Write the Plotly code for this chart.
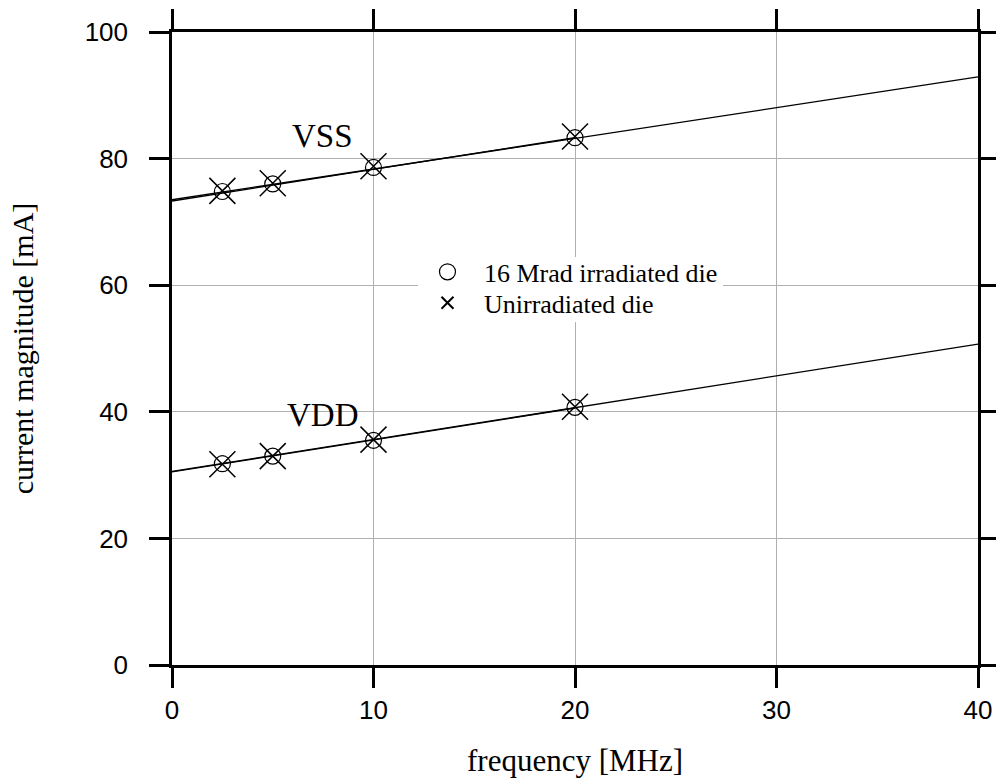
import plotly.graph_objects as go

freq = [2.5, 5, 10, 20]
vss_irr = [74.8, 76.0, 78.6, 83.3]
vss_unirr = [74.9, 76.1, 78.8, 83.5]
vdd_irr = [31.8, 33.0, 35.5, 40.7]
vdd_unirr = [31.7, 33.0, 35.6, 40.8]

fit_x = [0, 40]
vss_fit = [73.5, 92.9]
vdd_fit = [30.6, 50.7]
vss_fit2_x = [0, 20]
vss_fit2 = [73.3, 83.3]
vdd_fit2_x = [0, 20]
vdd_fit2 = [30.5, 40.6]

labels = ["VSS", "VDD"]
label_x = [7.45, 7.5]
label_y = [83.6, 39.5]

x_ticks = [0, 10, 20, 30, 40]
y_ticks = [0, 20, 40, 60, 80, 100]

fig = go.Figure()

for xs, ys in [(fit_x, vss_fit), (vss_fit2_x, vss_fit2), (fit_x, vdd_fit), (vdd_fit2_x, vdd_fit2)]:
    fig.add_trace(go.Scatter(x=xs, y=ys, mode="lines", line=dict(color="black", width=1.3),
                             showlegend=False, hoverinfo="skip"))

fig.add_trace(go.Scatter(x=freq, y=vss_irr, mode="markers", name="16 Mrad irradiated die",
                         legend="legend",
                         marker=dict(symbol="circle-open", size=16, color="black", line=dict(width=1.2))))
fig.add_trace(go.Scatter(x=freq, y=vdd_irr, mode="markers", showlegend=False,
                         marker=dict(symbol="circle-open", size=16, color="black", line=dict(width=1.2))))
fig.add_trace(go.Scatter(x=freq, y=vss_unirr, mode="markers", name="Unirradiated die",
                         legend="legend2",
                         marker=dict(symbol="x-thin-open", size=26, color="black", line=dict(width=1.5))))
fig.add_trace(go.Scatter(x=freq, y=vdd_unirr, mode="markers", showlegend=False,
                         marker=dict(symbol="x-thin-open", size=26, color="black", line=dict(width=1.5))))

for t, x, y in zip(labels, label_x, label_y):
    fig.add_annotation(x=x, y=y, text=t, showarrow=False,
                       font=dict(family="Liberation Serif", size=33, color="black"))

# white background behind the legend entries (hides grid lines like the original)
fig.add_shape(type="rect", xref="paper", yref="paper", x0=0.3052, x1=0.6836, y0=0.5419, y1=0.6445,
              fillcolor="white", line=dict(width=0), layer="above")

axis_common = dict(showline=True, linecolor="black", linewidth=2.5, mirror="ticks",
                   ticks="outside", ticklen=20, tickwidth=2.5, tickcolor="black",
                   showgrid=True, gridcolor="#b0b0b0", gridwidth=1, zeroline=False,
                   automargin=False,
                   tickfont=dict(family="Liberation Sans", size=26, color="black"))

fig.update_xaxes(range=[0, 40], tickvals=x_ticks, ticklabelstandoff=0,
                 title=dict(text="frequency [MHz]", font=dict(family="Liberation Serif", size=31, color="black"), standoff=29),
                 **axis_common)
fig.update_yaxes(range=[0, 100], tickvals=y_ticks, ticklabelstandoff=16,
                 title=dict(text="current magnitude [mA]", font=dict(family="Liberation Serif", size=30, color="black"), standoff=43),
                 **axis_common)

legend_common = dict(xanchor="left", yanchor="middle", bgcolor="rgba(0,0,0,0)",
                     font=dict(family="Liberation Serif", size=26, color="black"),
                     itemwidth=63)

fig.update_layout(
    width=996, height=778,
    margin=dict(l=172, r=18, t=32, b=113),
    plot_bgcolor="white", paper_bgcolor="white",
    legend=dict(x=0.2965, y=0.621, itemsizing="trace", **legend_common),
    legend2=dict(x=0.2965, y=0.572, itemsizing="constant", **legend_common),
)

fig.write_html("out.html", config={"displayModeBar": False},
               post_script="document.body.style.margin='0';document.body.style.overflow='hidden';")
